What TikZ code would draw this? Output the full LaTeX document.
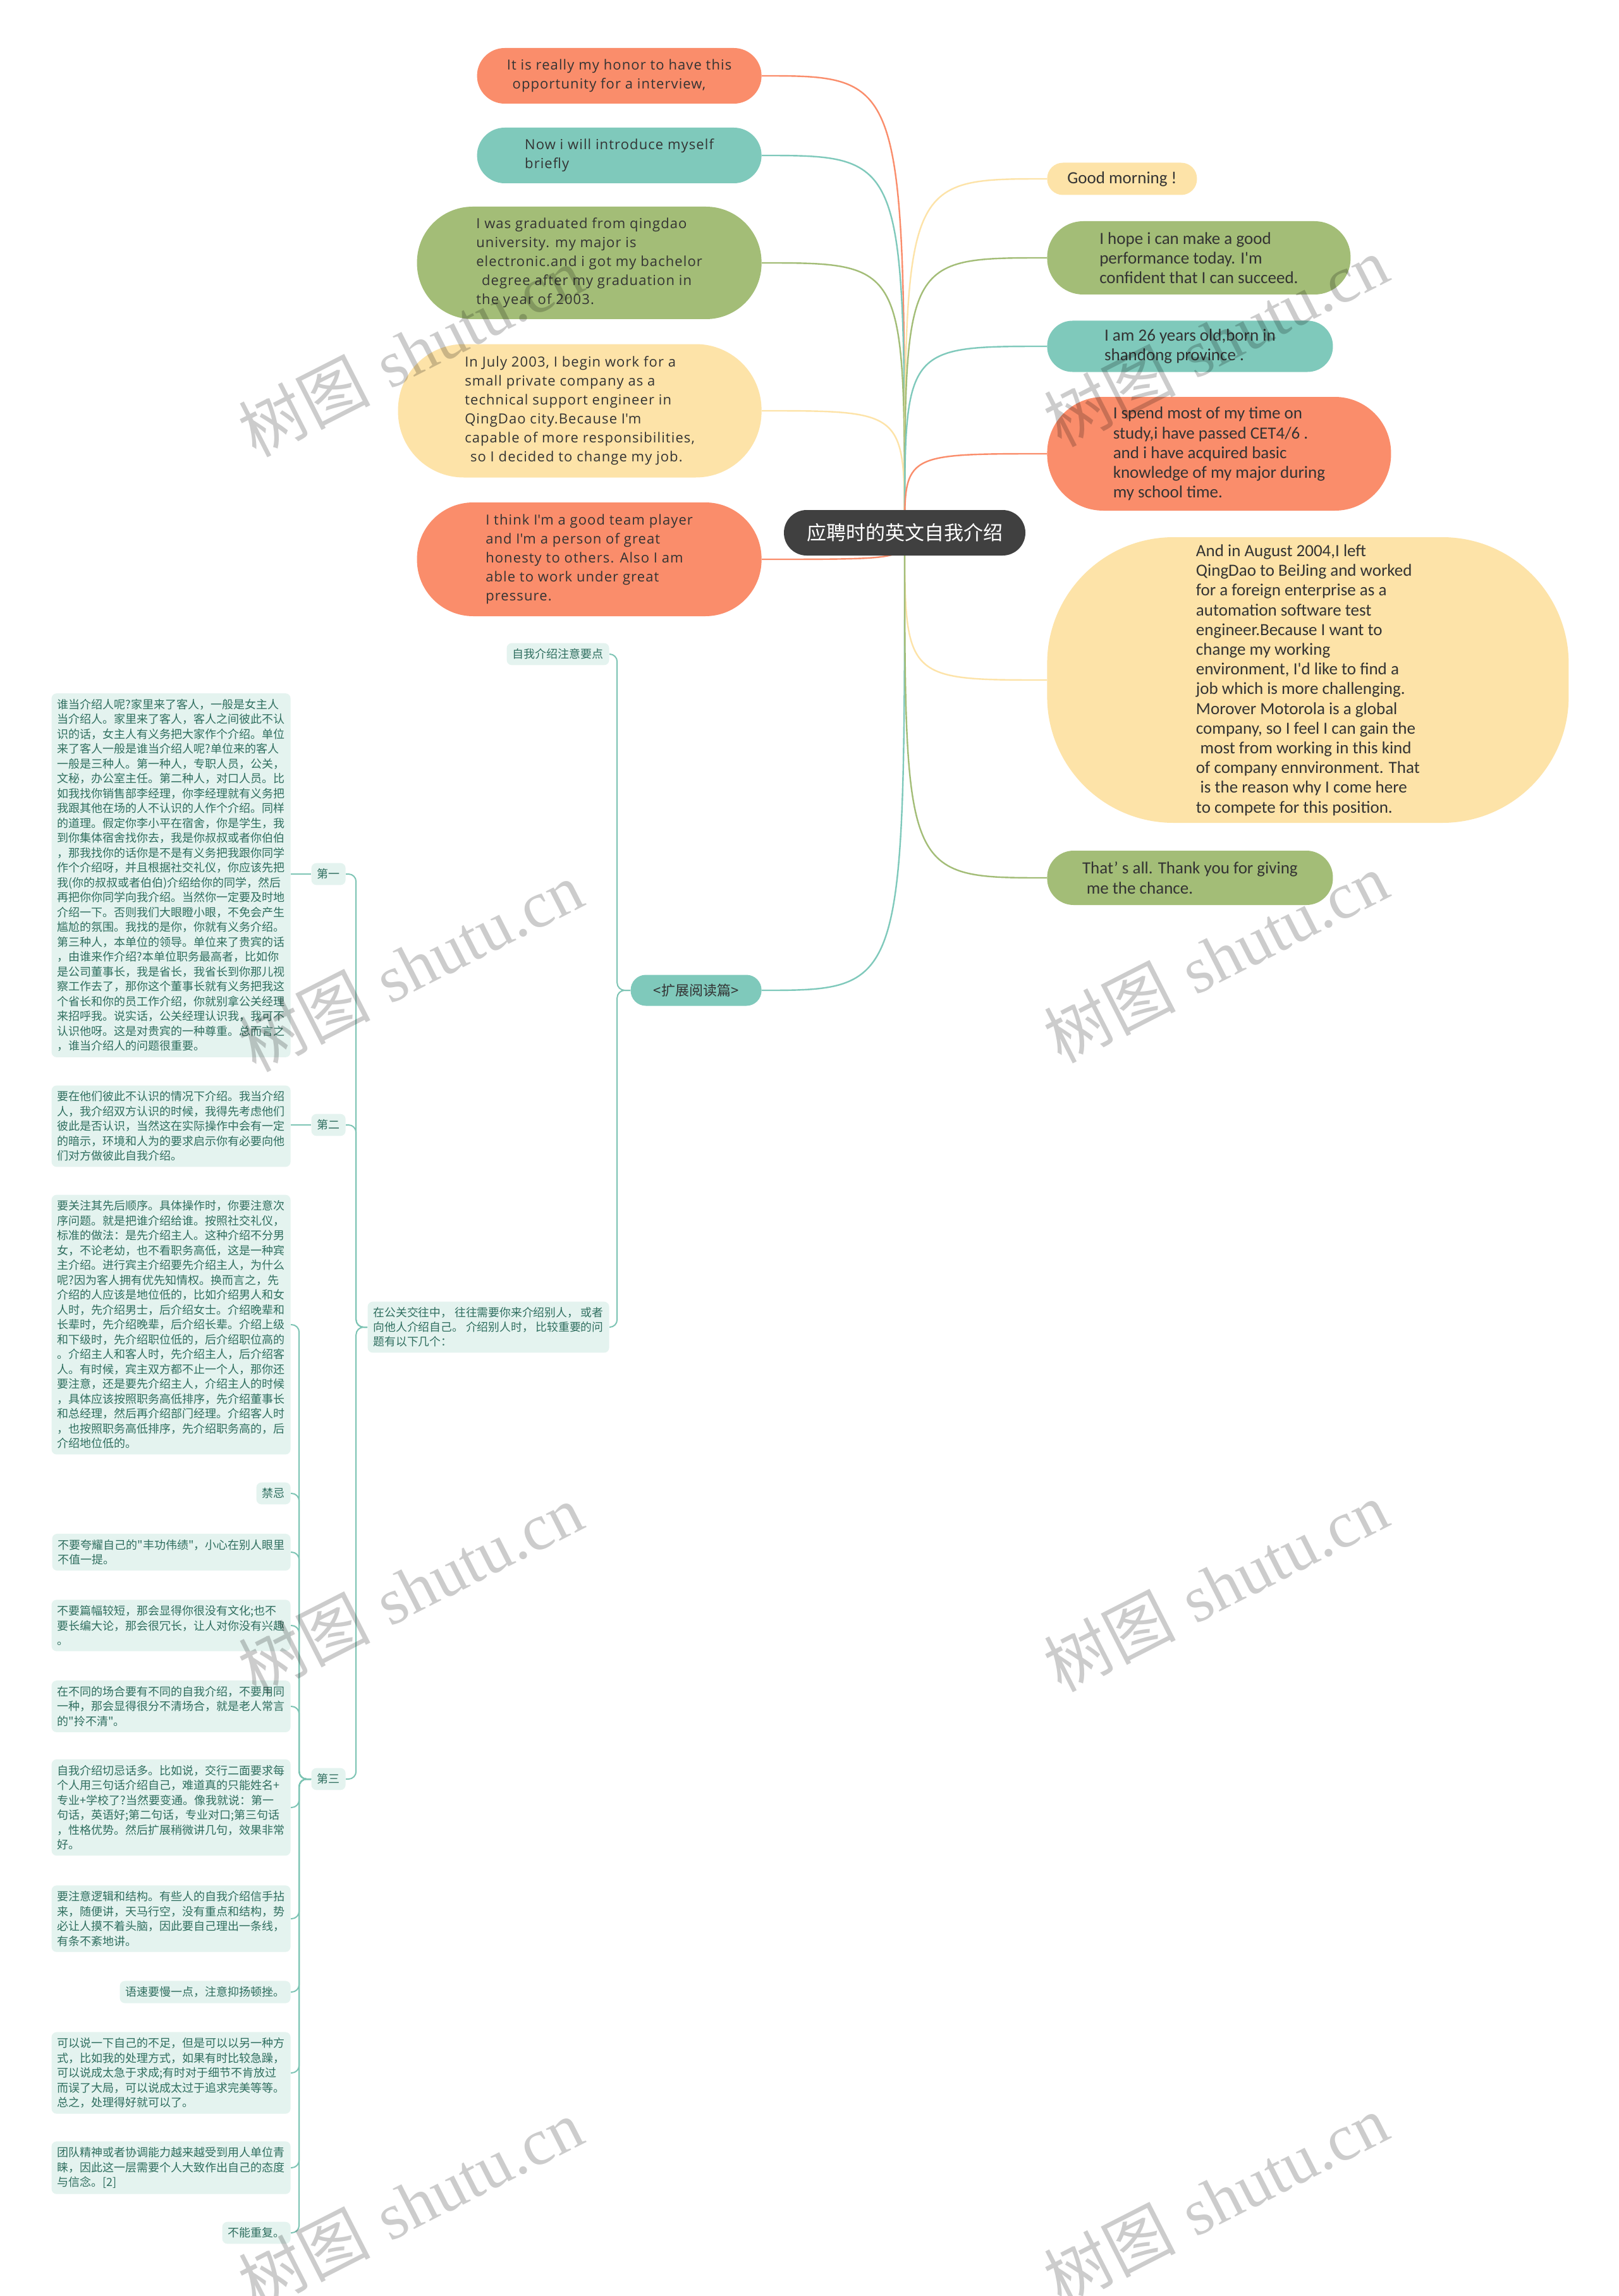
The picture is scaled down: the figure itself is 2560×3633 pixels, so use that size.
\documentclass[tikz,border=0pt]{standalone}
\usepackage{fontspec}
\newfontfamily\cjk{Noto Sans CJK SC}
\newfontfamily\enL[LetterSpace=5]{Open Sans}
\newfontfamily\enR{Carlito}
\newfontfamily\wmserif{Liberation Serif}
\usetikzlibrary{backgrounds}
\definecolor{cSal}{HTML}{FA8D6B}
\definecolor{cTeal}{HTML}{7FC9BB}
\definecolor{cGrn}{HTML}{A3BD77}
\definecolor{cYel}{HTML}{FDE3A8}
\definecolor{cRoot}{HTML}{404040}
\definecolor{cLeaf}{HTML}{E4F3EF}
\definecolor{cLeafTxt}{HTML}{2F6E5F}
\definecolor{cLeafLine}{HTML}{7DC4B4}
\definecolor{cTxt}{HTML}{333333}
\newcommand\ap{\textquotesingle}
\begin{document}
\begin{tikzpicture}[x=0.5pt,y=-0.5pt,
  en/.style={align=left, text=cTxt, inner sep=0pt},
  lnode/.style={en, font=\enL\fontsize{11}{15}\selectfont, anchor=east},
  rnode/.style={en, font=\enR\fontsize{13.5}{15.6}\selectfont, anchor=west},
  leaf/.style={fill=cLeaf, rounded corners=4pt, text=cLeafTxt, font=\cjk\fontsize{9}{11.75}\selectfont, align=left, inner xsep=4.5pt, inner ysep=4.5pt, anchor=east},
  link/.style={line width=1.2pt},
  llink/.style={line width=1pt, draw=cLeafLine, rounded corners=6pt},
  wm/.style={rotate=27, text=black, opacity=0.2, font=\fontsize{52}{60}\selectfont}
]
\useasboundingbox (0,0) rectangle (2560,3633);
\begin{scope}[on background layer]
\fill[white] (0,0) rectangle (2560,3633);
\end{scope}

% root
\node[fill=cRoot, text=white, font=\cjk\fontsize{15.5}{18}\selectfont, minimum width=191pt, minimum height=36pt, rounded corners=18pt, inner sep=0pt] (root) at (1431,843) {应聘时的英文自我介绍};

% left English nodes
\node[lnode, fill=cSal, minimum width=225pt, minimum height=44pt, rounded corners=21.9pt] (n1) at (1205,120) {It is really my honor to have this\\\hspace*{0.4em}opportunity for a interview,};
\node[lnode, fill=cTeal, minimum width=225pt, minimum height=44pt, rounded corners=21.9pt] (n2) at (1205,246) {Now i will introduce myself\\briefly};
\node[lnode, fill=cGrn, minimum width=272.5pt, minimum height=89pt, rounded corners=44pt] (n3) at (1205,416) {I was graduated from qingdao\\university. my major is\\electronic.and i got my bachelor\\\hspace*{0.4em}degree after my graduation in\\the year of 2003.};
\node[lnode, fill=cYel, minimum width=287.5pt, minimum height=105.5pt, rounded corners=52pt] (n4) at (1205,650) {In July 2003, I begin work for a\\small private company as a\\technical support engineer in\\QingDao city.Because I\ap m\\capable of more responsibilities,\\\hspace*{0.4em}so I decided to change my job.};
\node[lnode, fill=cSal, minimum width=272.5pt, minimum height=90pt, rounded corners=44.5pt] (n5) at (1205,885) {I think I\ap m a good team player\\and I\ap m a person of great\\honesty to others. Also I am\\able to work under great\\pressure.};

% right English nodes
\node[rnode, fill=cYel, minimum width=118.5pt, minimum height=25.5pt, rounded corners=12.5pt] (n6) at (1656,283) {Good morning !};
\node[rnode, fill=cGrn, minimum width=240pt, minimum height=58pt, rounded corners=28.5pt] (n7) at (1656,408) {I hope i can make a good\\performance today. I\ap m\\confident that I can succeed.};
\node[rnode, fill=cTeal, minimum width=226pt, minimum height=40.5pt, rounded corners=20pt] (n8) at (1656,548) {I am 26 years old,born in\\shandong province .};
\node[rnode, fill=cSal, minimum width=272pt, minimum height=90pt, rounded corners=44.5pt] (n9) at (1656,718) {I spend most of my time on\\study,i have passed CET4/6 .\\and i have acquired basic\\knowledge of my major during\\my school time.};
\node[rnode, fill=cYel, minimum width=412.5pt, minimum height=226pt, rounded corners=100pt] (n10) at (1656,1076) {And in August 2004,I left\\QingDao to BeiJing and worked\\for a foreign enterprise as a\\automation software test\\engineer.Because I want to\\change my working\\environment, I\ap d like to find a\\job which is more challenging.\\Morover Motorola is a global\\company, so I feel I can gain the\\\hspace*{0.25em}most from working in this kind\\of company ennvironment. That\\\hspace*{0.25em}is the reason why I come here\\to compete for this position.};
\node[rnode, fill=cGrn, minimum width=226pt, minimum height=43pt, rounded corners=21pt] (n11) at (1656,1389) {That’\ s all. Thank you for giving\\\hspace*{0.25em}me the chance.};

% extended reading branch
\node[fill=cTeal, text=cTxt, font=\cjk\fontsize{11}{13}\selectfont, minimum width=103.5pt, minimum height=24.5pt, rounded corners=12pt, inner sep=0pt, anchor=east] (kz) at (1205,1567) {<扩展阅读篇>};
\node[leaf] (tips) at (964,1035) {自我介绍注意要点};
\node[leaf, font=\cjk\fontsize{8.9}{11.5}\selectfont] (pub) at (964,2100) {在公关交往中， 往往需要你来介绍别人， 或者\\向他人介绍自己。 介绍别人时， 比较重要的问\\题有以下几个：};
\node[leaf] (d1) at (547,1383) {第一};
\node[leaf] (d2) at (547,1780) {第二};
\node[leaf] (d3) at (547,2815) {第三};

\node[leaf] (b1) at (460,1385) {谁当介绍人呢?家里来了客人，一般是女主人\\当介绍人。家里来了客人，客人之间彼此不认\\识的话，女主人有义务把大家作个介绍。单位\\来了客人一般是谁当介绍人呢?单位来的客人\\一般是三种人。第一种人，专职人员，公关，\\文秘，办公室主任。第二种人，对口人员。比\\如我找你销售部李经理，你李经理就有义务把\\我跟其他在场的人不认识的人作个介绍。同样\\的道理。假定你李小平在宿舍，你是学生，我\\到你集体宿舍找你去，我是你叔叔或者你伯伯\\，那我找你的话你是不是有义务把我跟你同学\\作个介绍呀，并且根据社交礼仪，你应该先把\\我(你的叔叔或者伯伯)介绍给你的同学，然后\\再把你你同学向我介绍。当然你一定要及时地\\介绍一下。否则我们大眼瞪小眼，不免会产生\\尴尬的氛围。我找的是你，你就有义务介绍。\\第三种人，本单位的领导。单位来了贵宾的话\\，由谁来作介绍?本单位职务最高者，比如你\\是公司董事长，我是省长，我省长到你那儿视\\察工作去了，那你这个董事长就有义务把我这\\个省长和你的员工作介绍，你就别拿公关经理\\来招呼我。说实话，公关经理认识我，我可不\\认识他呀。这是对贵宾的一种尊重。总而言之\\，谁当介绍人的问题很重要。};
\node[leaf] (b2) at (460,1782) {要在他们彼此不认识的情况下介绍。我当介绍\\人，我介绍双方认识的时候，我得先考虑他们\\彼此是否认识，当然这在实际操作中会有一定\\的暗示，环境和人为的要求启示你有必要向他\\们对方做彼此自我介绍。};
\node[leaf] (ba) at (460,2096) {要关注其先后顺序。具体操作时，你要注意次\\序问题。就是把谁介绍给谁。按照社交礼仪，\\标准的做法：是先介绍主人。这种介绍不分男\\女，不论老幼，也不看职务高低，这是一种宾\\主介绍。进行宾主介绍要先介绍主人，为什么\\呢?因为客人拥有优先知情权。换而言之，先\\介绍的人应该是地位低的，比如介绍男人和女\\人时，先介绍男士，后介绍女士。介绍晚辈和\\长辈时，先介绍晚辈，后介绍长辈。介绍上级\\和下级时，先介绍职位低的，后介绍职位高的\\。介绍主人和客人时，先介绍主人，后介绍客\\人。有时候，宾主双方都不止一个人，那你还\\要注意，还是要先介绍主人，介绍主人的时候\\，具体应该按照职务高低排序，先介绍董事长\\和总经理，然后再介绍部门经理。介绍客人时\\，也按照职务高低排序，先介绍职务高的，后\\介绍地位低的。};
\node[leaf] (bj) at (460,2363) {禁忌};
\node[leaf] (bk) at (460,2456) {不要夸耀自己的"丰功伟绩"，小心在别人眼里\\不值一提。};
\node[leaf] (bp) at (460,2572) {不要篇幅较短，那会显得你很没有文化;也不\\要长编大论，那会很冗长，让人对你没有兴趣\\。};
\node[leaf] (bc) at (460,2700) {在不同的场合要有不同的自我介绍，不要用同\\一种，那会显得很分不清场合，就是老人常言\\的"拎不清"。};
\node[leaf] (bh) at (460,2860) {自我介绍切忌话多。比如说，交行二面要求每\\个人用三句话介绍自己，难道真的只能姓名+\\专业+学校了?当然要变通。像我就说：第一\\句话，英语好;第二句话，专业对口;第三句话\\，性格优势。然后扩展稍微讲几句，效果非常\\好。};
\node[leaf] (bl) at (460,3036) {要注意逻辑和结构。有些人的自我介绍信手拈\\来，随便讲，天马行空，没有重点和结构，势\\必让人摸不着头脑，因此要自己理出一条线，\\有条不紊地讲。};
\node[leaf] (by) at (460,3152) {语速要慢一点，注意抑扬顿挫。};
\node[leaf] (bs) at (460,3280) {可以说一下自己的不足，但是可以以另一种方\\式，比如我的处理方式，如果有时比较急躁，\\可以说成太急于求成;有时对于细节不肯放过\\而误了大局，可以说成太过于追求完美等等。\\总之，处理得好就可以了。};
\node[leaf] (bt) at (460,3430) {团队精神或者协调能力越来越受到用人单位青\\睐，因此这一层需要个人大致作出自己的态度\\与信念。[2]};
\node[leaf] (bb) at (460,3533) {不能重复。};

% connectors
\begin{scope}[on background layer]
\foreach \n/\c in {n1/cSal,n2/cTeal,n3/cGrn,n4/cYel,n5/cSal,kz/cTeal}{
  \draw[link, draw=\c] (root.center) .. controls (root.center |- \n.east) and (root.center |- \n.east) .. (\n.east);
}
\foreach \n/\c in {n6/cYel,n7/cGrn,n8/cTeal,n9/cSal,n10/cYel,n11/cGrn}{
  \draw[link, draw=\c] (root.center) .. controls (root.center |- \n.west) and (root.center |- \n.west) .. (\n.west);
}
\draw[llink] (kz.west) -- ++(-21,0) |- (tips.east);
\draw[llink] (kz.west) -- ++(-21,0) |- (pub.east);
\foreach \n in {d1,d2,d3}{
  \draw[llink] (pub.west) -- ++(-18,0) |- (\n.east);
}
\draw[llink] (d1.west) -- (d1.west -| b1.east);
\draw[llink] (d2.west) -- (d2.west -| b2.east);
\foreach \n in {ba,bj,bk,bp,bc,bh,bl,by,bs,bt,bb}{
  \draw[llink] (d3.west) -- ++(-19,0) |- (\n.east);
}
\end{scope}

% watermarks
\foreach \i/\x/\y in {1/649/556,2/1923/540,3/649/1529,4/1923/1515,5/649/2514,6/1923/2510,7/649/3487,8/1923/3480}{
  \node[wm] (wm\i) at (\x,\y) {{\cjk 树图} {\wmserif shutu.cn}};
}
\end{tikzpicture}
\end{document}
